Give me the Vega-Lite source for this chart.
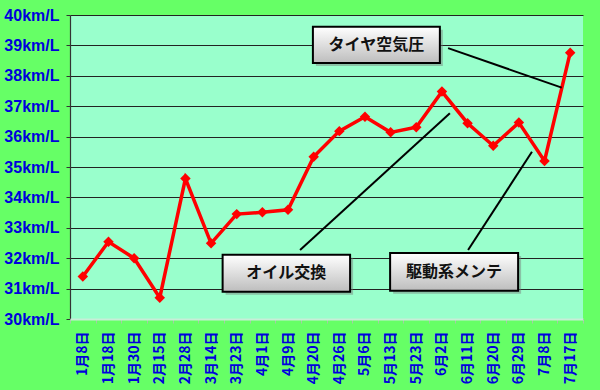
{
  "$schema": "https://vega.github.io/schema/vega-lite/v6.json",
  "width": 513,
  "height": 304,
  "autosize": {"type": "none"},
  "padding": {"left": 70, "top": 15, "right": 17, "bottom": 71},
  "background": "#66FF66",
  "config": {
    "view": {"stroke": null, "fill": "#99FFCC"},
    "axisY": {
      "title": null, "values": [30, 31, 32, 33, 34, 35, 36, 37, 38, 39, 40],
      "labelExpr": "datum.value + 'km/L'", "labelFont": "Liberation Sans", "labelFontSize": 16,
      "labelFontWeight": "bold", "labelColor": "#0000DD", "labelPadding": 7, "labelOverlap": false,
      "tickSize": 4, "tickColor": "#333333", "domainColor": "#333333", "domainWidth": 1.2,
      "grid": true, "gridWidth": 1.2, "gridOpacity": 1, "gridColor": "#222222"
    }
  },
  "datasets": {
    "series": [
      {"date": "1月8日", "kmL": 31.40},
      {"date": "1月18日", "kmL": 32.54},
      {"date": "1月30日", "kmL": 32.00},
      {"date": "2月15日", "kmL": 30.70},
      {"date": "2月28日", "kmL": 34.62},
      {"date": "3月14日", "kmL": 32.49},
      {"date": "3月23日", "kmL": 33.45},
      {"date": "4月1日", "kmL": 33.51},
      {"date": "4月9日", "kmL": 33.59},
      {"date": "4月20日", "kmL": 35.34},
      {"date": "4月26日", "kmL": 36.18},
      {"date": "5月6日", "kmL": 36.65},
      {"date": "5月13日", "kmL": 36.14},
      {"date": "5月23日", "kmL": 36.31},
      {"date": "6月2日", "kmL": 37.48},
      {"date": "6月11日", "kmL": 36.44},
      {"date": "6月20日", "kmL": 35.70},
      {"date": "6月29日", "kmL": 36.46},
      {"date": "7月8日", "kmL": 35.20},
      {"date": "7月17日", "kmL": 38.76}
    ],
    "notes": [
      {"label": "タイヤ空気圧", "bx1": 9.47, "bx2": 14.42, "by1": 38.42, "by2": 39.61, "tx": 11.945, "ty": 39.015, "lx1": 14.74, "ly1": 38.91, "lx2": 19.17, "ly2": 37.61},
      {"label": "オイル交換", "bx1": 5.95, "bx2": 10.92, "by1": 30.90, "by2": 32.11, "tx": 8.435, "ty": 31.505, "lx1": 8.97, "ly1": 32.27, "lx2": 14.81, "ly2": 36.77},
      {"label": "駆動系メンテ", "bx1": 12.48, "bx2": 17.47, "by1": 30.93, "by2": 32.17, "tx": 14.975, "ty": 31.55, "lx1": 15.52, "ly1": 32.27, "lx2": 18.01, "ly2": 35.50}
    ]
  },
  "layer": [
    {
      "data": {"name": "series"},
      "encoding": {
        "x": {
          "field": "date", "type": "ordinal", "sort": null, "bandPosition": 0.5,
          "scale": {"type": "band", "paddingInner": 0, "paddingOuter": 0},
          "axis": {
            "title": null, "labelAngle": -90, "labelFont": "Noto Sans CJK JP", "labelFontSize": 14,
            "labelFontWeight": "bold", "labelColor": "#0000DD", "labelPadding": 8, "labelOverlap": false,
            "tickBand": "extent", "tickSize": 4, "tickColor": "#A8C8A8", "domainColor": "#C8EED8",
            "domainWidth": 2, "grid": false, "zindex": 1
          }
        },
        "y": {
          "field": "kmL", "type": "quantitative", "title": null,
          "scale": {"domain": [30, 40], "nice": false, "zero": false}
        }
      },
      "layer": [
        {"mark": {"type": "line", "color": "#FF0000", "strokeWidth": 3.5}},
        {"mark": {"type": "point", "shape": "diamond", "filled": true, "color": "#FF0000", "size": 110, "opacity": 1}}
      ]
    },
    {
      "data": {"name": "notes"},
      "encoding": {
        "x": {"field": "bx1", "type": "quantitative", "scale": {"domain": [0, 20], "nice": false, "zero": false}, "axis": null},
        "y": {"field": "by1", "type": "quantitative", "title": null}
      },
      "layer": [
        {
          "mark": {"type": "rule", "color": "#000000", "strokeWidth": 2},
          "encoding": {
            "x": {"field": "lx1", "type": "quantitative"},
            "y": {"field": "ly1", "type": "quantitative", "title": null},
            "x2": {"field": "lx2"},
            "y2": {"field": "ly2"}
          }
        },
        {
          "mark": {"type": "rect", "fill": "#777777", "opacity": 0.45, "xOffset": 3, "x2Offset": 3, "yOffset": 3, "y2Offset": 3},
          "encoding": {
            "x2": {"field": "bx2"},
            "y2": {"field": "by2"}
          }
        },
        {
          "mark": {
            "type": "rect", "stroke": "#000000", "strokeWidth": 2,
            "fill": {"gradient": "linear", "x1": 0, "y1": 0, "x2": 0, "y2": 1, "stops": [{"offset": 0, "color": "#FFFFFF"}, {"offset": 1, "color": "#BDBDBD"}]}
          },
          "encoding": {
            "x2": {"field": "bx2"},
            "y2": {"field": "by2"}
          }
        },
        {
          "mark": {"type": "text", "font": "Noto Sans CJK JP", "fontSize": 16, "fontWeight": "bold", "color": "#111111", "align": "center", "baseline": "middle"},
          "encoding": {
            "x": {"field": "tx", "type": "quantitative"},
            "y": {"field": "ty", "type": "quantitative", "title": null},
            "text": {"field": "label"}
          }
        }
      ]
    }
  ],
  "resolve": {"scale": {"x": "independent"}}
}
